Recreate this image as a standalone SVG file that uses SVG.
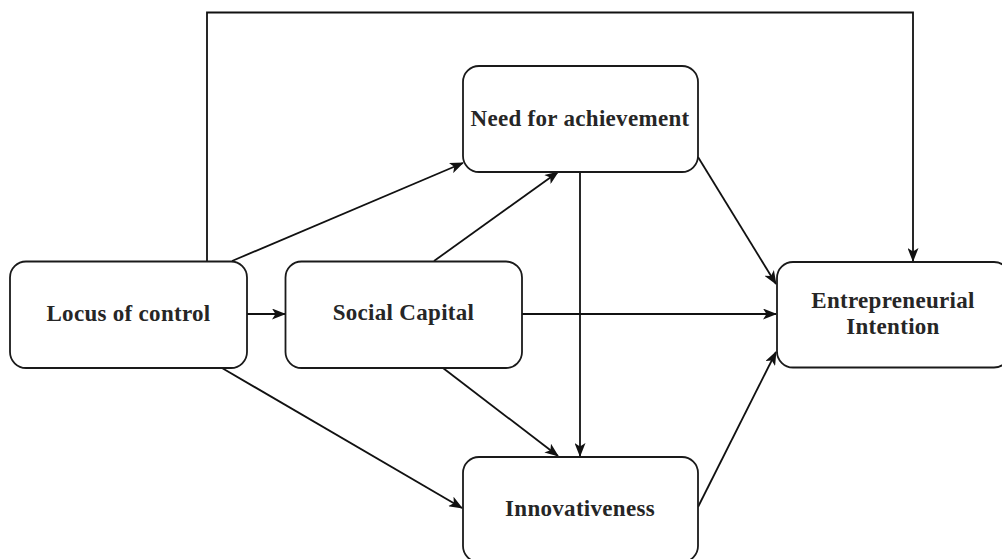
<svg xmlns="http://www.w3.org/2000/svg" width="1002" height="559" viewBox="0 0 1002 559">
  <style>
    .box { fill: #ffffff; stroke: #1a1a1a; stroke-width: 1.8; }
    .lbl { font-family: "Liberation Serif", "Times New Roman", serif; font-weight: bold; font-size: 23px; letter-spacing: 0.3px; fill: #262626; text-anchor: middle; }
    .edge { fill: none; stroke: #111111; stroke-width: 1.8; marker-end: url(#arrow); }
  </style>
  <defs>
    <!-- filled notched arrowhead shared by every connector -->
    <marker id="arrow" viewBox="0 0 14 11" refX="13" refY="5.5" markerWidth="14" markerHeight="11" markerUnits="userSpaceOnUse" orient="auto">
      <path d="M0,0 L14,5.5 L0,11 L3.5,5.5 Z" fill="#111111"/>
    </marker>
  </defs>

  <rect width="1002" height="559" fill="#ffffff"/>

  <!-- connectors -->
  <g id="connectors">
    <polyline class="edge" points="207,261 207,12.5 913,12.5 913,261"/>
    <line class="edge" x1="232" y1="261" x2="463" y2="163"/>
    <line class="edge" x1="434" y1="261" x2="558" y2="172"/>
    <line class="edge" x1="247" y1="314" x2="285" y2="314"/>
    <line class="edge" x1="522" y1="314" x2="776" y2="314"/>
    <line class="edge" x1="222" y1="368" x2="462" y2="508"/>
    <line class="edge" x1="443" y1="368" x2="558" y2="456"/>
    <line class="edge" x1="580" y1="172" x2="580" y2="456"/>
    <line class="edge" x1="698" y1="157" x2="776" y2="284"/>
    <line class="edge" x1="698" y1="507" x2="776" y2="352"/>
  </g>

  <!-- nodes -->
  <g id="locus-of-control">
    <rect class="box" x="10" y="261.5" width="237" height="106.5" rx="16"/>
    <text class="lbl" x="128.5" y="321">Locus of control</text>
  </g>
  <g id="social-capital">
    <rect class="box" x="285.5" y="261.5" width="236.5" height="106.5" rx="16"/>
    <text class="lbl" x="403.5" y="320">Social Capital</text>
  </g>
  <g id="need-for-achievement">
    <rect class="box" x="463" y="66" width="235" height="106" rx="16"/>
    <text class="lbl" x="580" y="126">Need for achievement</text>
  </g>
  <g id="innovativeness">
    <rect class="box" x="463" y="457" width="235" height="105" rx="16"/>
    <text class="lbl" x="580" y="516">Innovativeness</text>
  </g>
  <g id="entrepreneurial-intention">
    <rect class="box" x="777" y="262" width="233" height="105.5" rx="16"/>
    <text class="lbl" x="893" y="308">Entrepreneurial</text>
    <text class="lbl" x="893" y="334">Intention</text>
  </g>
</svg>
